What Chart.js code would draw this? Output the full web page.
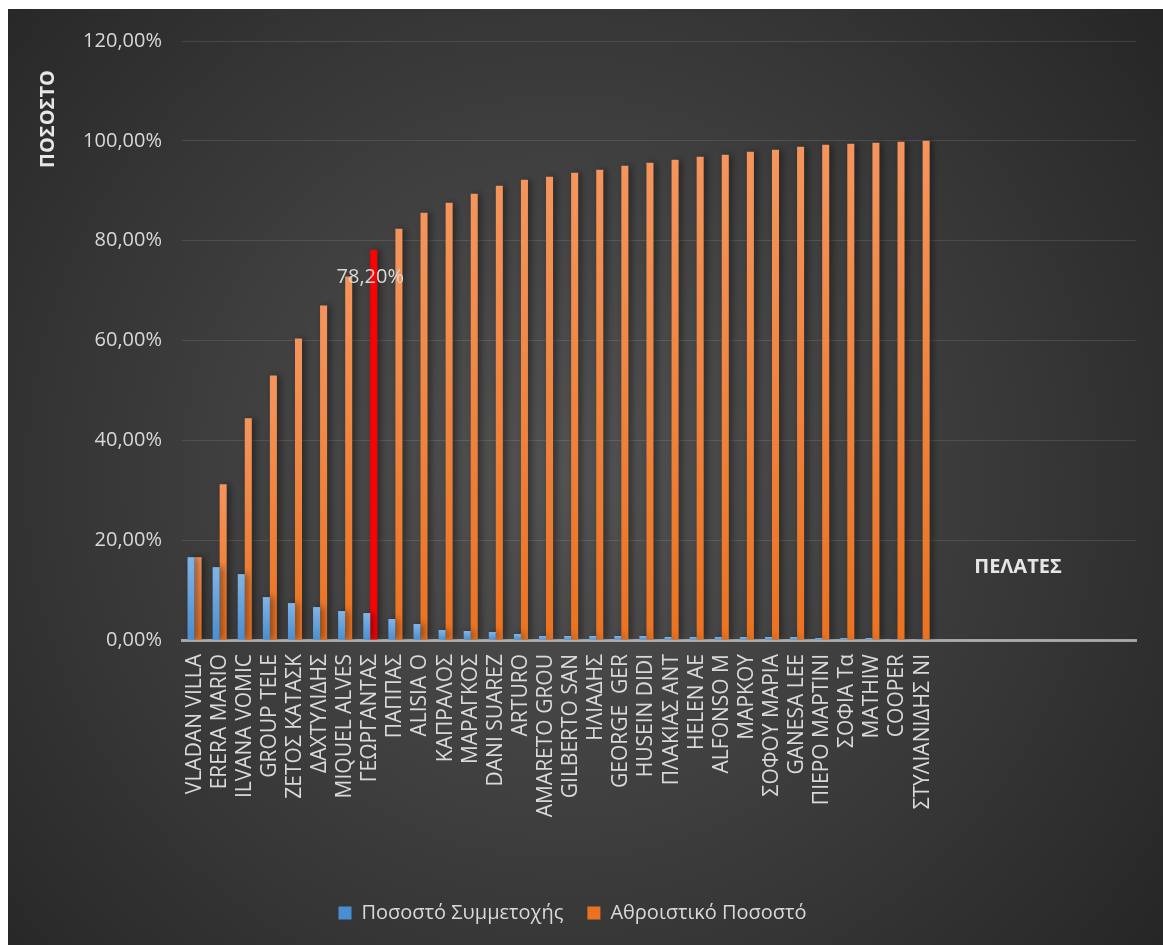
<!DOCTYPE html>
<html>
<head>
<meta charset="utf-8">
<script src="https://cdn.jsdelivr.net/npm/chart.js@4/dist/chart.umd.min.js"></script>
<style>
    body { margin: 0; background: #ffffff; }
    #wrap { position: absolute; left: 8px; top: 9px; width: 1155px; height: 936px; }
</style>
</head>
<body>
<div id="wrap"><canvas id="chart" width="1155" height="936"></canvas></div>
<script>
const customers = [
    "VLADAN VILLA", "ERERA MARIO", "ILVANA VOMIC", "GROUP TELE", "ΖΕΤΟΣ ΚΑΤΑΣΚ",
    "ΔΑΧΤΥΛΙΔΗΣ", "MIQUEL ALVES", "ΓΕΩΡΓΑΝΤΑΣ", "ΠΑΠΠΑΣ", "ALISIA O",
    "ΚΑΠΡΑΛΟΣ", "ΜΑΡΑΓΚΟΣ", "DANI SUAREZ", "ARTURO", "AMARETO GROU",
    "GILBERTO SAN", "ΗΛΙΑΔΗΣ", "GEORGE  GER", "HUSEIN DIDI", "ΠΛΑΚΙΑΣ ΑΝΤ",
    "HELEN AE", "ALFONSO M", "ΜΑΡΚΟΥ", "ΣΟΦΟΥ ΜΑΡΙΑ", "GANESA LEE",
    "ΠΙΕΡΟ ΜΑΡΤΙΝΙ", "ΣΟΦΙΑ Τα", "MATHIW", "COOPER", "ΣΤΥΛΙΑΝΙΔΗΣ ΝΙ",
    "", "", "", "", "", "", "", ""
];

// Ποσοστό Συμμετοχής (%)
const share = [
    16.6, 14.6, 13.2, 8.6, 7.4, 6.6, 5.8, 5.4, 4.2, 3.2,
    2.0, 1.8, 1.6, 1.2, 0.8, 0.8, 0.8, 0.8, 0.8, 0.6,
    0.6, 0.6, 0.6, 0.6, 0.6, 0.4, 0.4, 0.4, 0.2, 0.2
];

// Αθροιστικό Ποσοστό (%)
const cumulative = [
    16.6, 31.2, 44.4, 53.0, 60.4, 67.0, 72.8, 78.2, 82.4, 85.6,
    87.6, 89.4, 91.0, 92.2, 92.8, 93.6, 94.2, 95.0, 95.6, 96.2,
    96.8, 97.2, 97.8, 98.2, 98.8, 99.2, 99.4, 99.6, 99.8, 100.0
];

const yTicks = [0, 20, 40, 60, 80, 100, 120];
const highlightIndex = 7;

const FONT = "'Open Sans', 'Noto Sans', sans-serif";
const TEXT = '#d9d9d9';

function pct(v) {
    return v.toFixed(2).replace('.', ',') + '%';
}

// vertical gradient per bar, light at the top
function barFill(light, dark, special) {
    return (c) => {
        if (c.type !== 'data') return dark;
        if (special && special(c.dataIndex)) return '#ff0000';
        const chart = c.chart;
        if (!chart.chartArea) return dark;
        const y = chart.scales.y;
        const top = y.getPixelForValue(c.raw);
        const bottom = y.getPixelForValue(0);
        if (bottom - top < 1) return dark;
        const g = chart.ctx.createLinearGradient(0, top, 0, bottom);
        g.addColorStop(0, light);
        g.addColorStop(1, dark);
        return g;
    };
}

const background = {
    id: 'background',
    beforeDraw(chart) {
        const { ctx, width, height } = chart;
        const g = ctx.createRadialGradient(width * 0.48, height * 0.5, 0, width * 0.48, height * 0.5, 760);
        g.addColorStop(0, '#525252');
        g.addColorStop(1, '#262626');
        ctx.save();
        ctx.fillStyle = g;
        ctx.fillRect(0, 0, width, height);
        ctx.restore();
    }
};

const barShadow = {
    id: 'barShadow',
    beforeDatasetsDraw(chart) {
        const ctx = chart.ctx;
        ctx.save();
        ctx.shadowColor = 'rgba(0,0,0,0.45)';
        ctx.shadowBlur = 7;
        ctx.shadowOffsetX = 3;
    },
    afterDatasetsDraw(chart) {
        chart.ctx.restore();
    }
};

const extras = {
    id: 'extras',
    afterDraw(chart) {
        const ctx = chart.ctx;
        ctx.save();
        ctx.fillStyle = TEXT;
        ctx.textAlign = 'center';
        ctx.textBaseline = 'middle';

        // value label of the highlighted bar
        const el = chart.getDatasetMeta(1).data[highlightIndex];
        ctx.font = '20px ' + FONT;
        ctx.fillText(pct(cumulative[highlightIndex]), el.x - el.width / 2, el.y + 28);

        // axis titles
        ctx.fillStyle = '#e6e6e6';
        ctx.font = 'bold 20px ' + FONT;
        ctx.fillText('ΠΕΛΑΤΕΣ', 1010, 558);
        ctx.translate(40, 110);
        ctx.rotate(-Math.PI / 2);
        ctx.fillText('ΠΟΣΟΣΤΟ', 0, 0);
        ctx.restore();
    }
};

new Chart(document.getElementById('chart'), {
    type: 'bar',
    data: {
        labels: customers,
        datasets: [
            {
                label: 'Ποσοστό Συμμετοχής',
                data: share,
                backgroundColor: barFill('#80b4e6', '#4a8ed2')
            },
            {
                label: 'Αθροιστικό Ποσοστό',
                data: cumulative,
                backgroundColor: barFill('#f5955c', '#eb7220', i => i === highlightIndex)
            }
        ]
    },
    options: {
        responsive: false,
        animation: false,
        categoryPercentage: 0.56,
        barPercentage: 1.0,
        layout: { padding: { top: 26, right: 26, bottom: 12, left: 0 } },
        plugins: {
            tooltip: { enabled: false },
            legend: {
                position: 'bottom',
                labels: {
                    color: TEXT,
                    font: { family: FONT, size: 20 },
                    boxWidth: 13,
                    boxHeight: 13,
                    padding: 24
                }
            }
        },
        scales: {
            x: {
                z: 1,
                grid: { display: false, drawTicks: false },
                border: { display: true, color: 'rgba(210,210,210,0.7)', width: 3 },
                ticks: {
                    color: TEXT,
                    font: { family: FONT, size: 21 },
                    autoSkip: false,
                    minRotation: 90,
                    maxRotation: 90,
                    padding: 14
                },
                afterFit(scale) { scale.height = 239; }
            },
            y: {
                min: 0,
                max: 120,
                afterBuildTicks(scale) { scale.ticks = yTicks.map(v => ({ value: v })); },
                grid: { color: 'rgba(255,255,255,0.11)', lineWidth: 1, drawTicks: false },
                border: { display: false },
                ticks: {
                    color: TEXT,
                    font: { family: FONT, size: 20 },
                    padding: 20,
                    callback: v => pct(v)
                },
                afterFit(scale) { scale.width = 174; }
            }
        }
    },
    plugins: [background, barShadow, extras]
});
</script>
</body>
</html>
